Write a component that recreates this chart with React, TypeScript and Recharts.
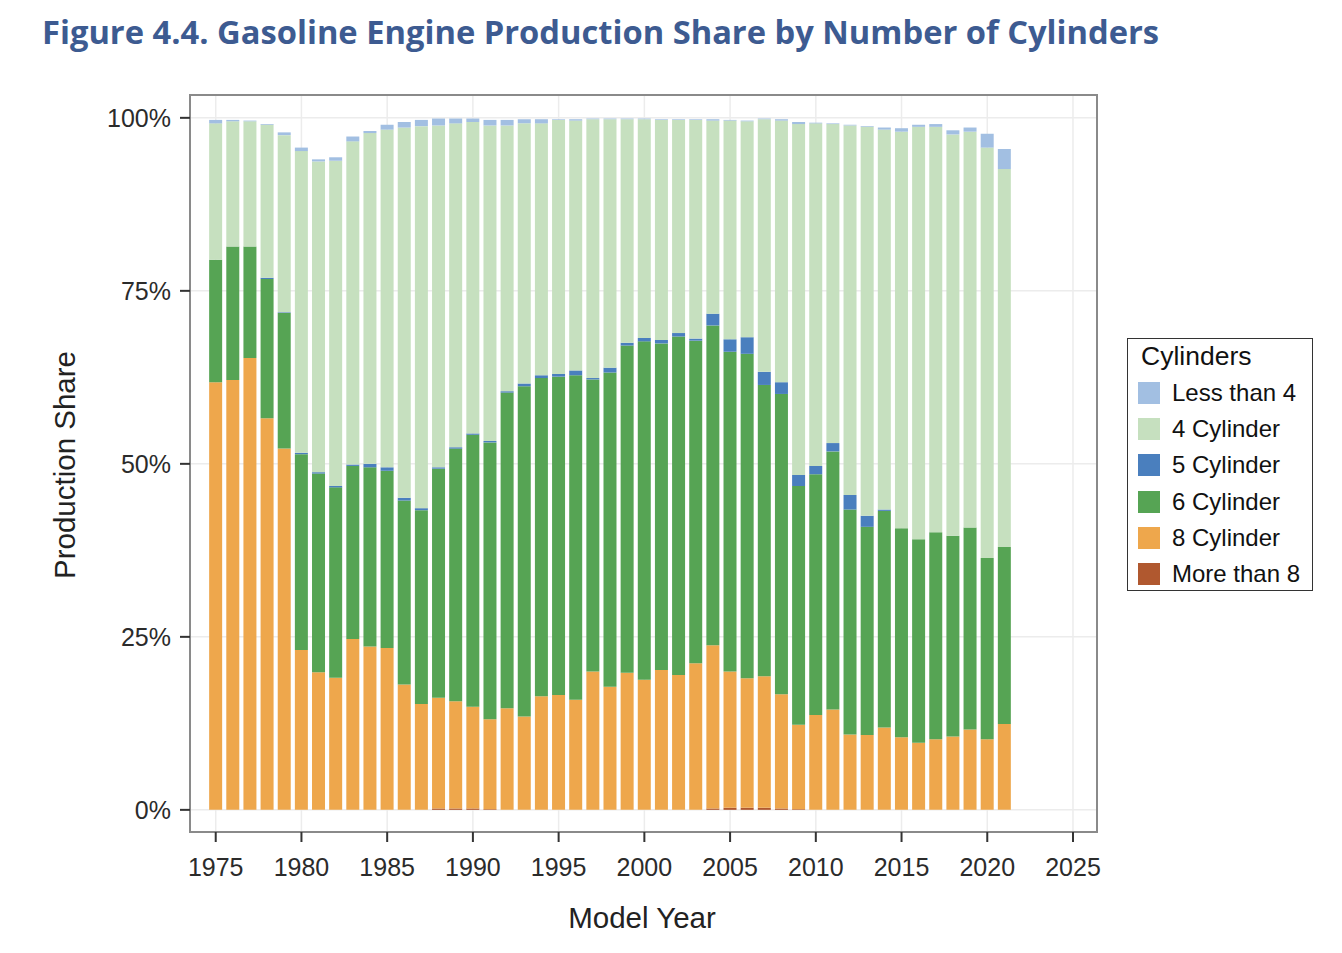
import {
  BarChart,
  Bar,
  XAxis,
  YAxis,
  CartesianGrid,
  ReferenceArea,
} from 'recharts';

// model years and share (%) of each cylinder group, bottom of the stack first
const years = [
  1975, 1976, 1977, 1978, 1979, 1980, 1981, 1982, 1983, 1984, 1985, 1986,
  1987, 1988, 1989, 1990, 1991, 1992, 1993, 1994, 1995, 1996, 1997, 1998,
  1999, 2000, 2001, 2002, 2003, 2004, 2005, 2006, 2007, 2008, 2009, 2010,
  2011, 2012, 2013, 2014, 2015, 2016, 2017, 2018, 2019, 2020, 2021,
];

const moreThan8 = [
  0, 0, 0, 0, 0, 0, 0, 0, 0, 0, 0, 0,
  0, 0.2, 0.2, 0.2, 0.1, 0, 0, 0, 0, 0, 0, 0,
  0, 0, 0, 0, 0, 0.2, 0.3, 0.3, 0.3, 0.2, 0.1, 0,
  0, 0, 0, 0, 0, 0, 0, 0, 0, 0, 0,
];

const cyl8 = [
  61.8, 62.1, 65.3, 56.6, 52.2, 23.1, 19.9, 19.1, 24.7, 23.6, 23.4, 18.1,
  15.3, 16.0, 15.5, 14.7, 13.0, 14.7, 13.5, 16.4, 16.6, 15.9, 20.0, 17.8,
  19.8, 18.8, 20.2, 19.5, 21.2, 23.6, 19.7, 18.7, 19.0, 16.5, 12.2, 13.7,
  14.5, 10.9, 10.8, 11.9, 10.5, 9.7, 10.2, 10.6, 11.6, 10.2, 12.4,
];

const cyl6 = [
  17.7, 19.3, 16.1, 20.1, 19.6, 28.3, 28.7, 27.5, 25.0, 25.9, 25.6, 26.6,
  28.0, 33.1, 36.5, 39.3, 40.0, 45.6, 47.7, 46.0, 46.0, 46.9, 42.2, 45.4,
  47.3, 48.9, 47.2, 48.9, 46.6, 46.2, 46.2, 46.9, 42.1, 43.4, 34.5, 34.8,
  37.3, 32.5, 30.1, 31.3, 30.2, 29.4, 29.9, 29.0, 29.2, 26.2, 25.6,
];

const cyl5 = [
  0, 0, 0, 0.2, 0.1, 0.2, 0.2, 0.2, 0.2, 0.5, 0.5, 0.4,
  0.3, 0.2, 0.2, 0.2, 0.2, 0.2, 0.4, 0.4, 0.4, 0.7, 0.2, 0.7,
  0.4, 0.5, 0.5, 0.5, 0.3, 1.7, 1.8, 2.4, 1.9, 1.7, 1.6, 1.2,
  1.2, 2.1, 1.6, 0.2, 0, 0, 0, 0, 0, 0, 0,
];

const cyl4 = [
  19.7, 18.1, 18.1, 22.1, 25.6, 43.6, 44.9, 47.0, 46.7, 47.8, 48.8, 53.5,
  55.2, 49.4, 46.8, 45.0, 45.6, 38.4, 37.6, 36.4, 36.7, 36.1, 37.4, 35.9,
  32.3, 31.6, 31.8, 30.8, 31.6, 27.9, 31.6, 31.2, 36.5, 37.8, 50.7, 49.5,
  46.1, 53.4, 56.2, 54.9, 57.3, 59.6, 58.6, 58.0, 57.2, 59.3, 54.6,
];

const lessThan4 = [
  0.5, 0.2, 0.1, 0.1, 0.4, 0.5, 0.3, 0.5, 0.7, 0.3, 0.7, 0.8,
  0.9, 1.0, 0.7, 0.5, 0.8, 0.8, 0.6, 0.6, 0.1, 0.2, 0.1, 0.1,
  0.1, 0.1, 0.1, 0.1, 0.1, 0.2, 0.1, 0.1, 0.1, 0.2, 0.3, 0.1,
  0.1, 0.1, 0.1, 0.3, 0.5, 0.3, 0.4, 0.6, 0.6, 2.0, 2.9,
];

const xTicks = [1975, 1980, 1985, 1990, 1995, 2000, 2005, 2010, 2015, 2020, 2025];
const yTicks = [0, 25, 50, 75, 100];

const series = [
  { key: 'lessThan4', name: 'Less than 4', color: '#a2bfe2' },
  { key: 'cyl4', name: '4 Cylinder', color: '#c6e0bf' },
  { key: 'cyl5', name: '5 Cylinder', color: '#4a7fbe' },
  { key: 'cyl6', name: '6 Cylinder', color: '#56a454' },
  { key: 'cyl8', name: '8 Cylinder', color: '#eea74c' },
  { key: 'moreThan8', name: 'More than 8', color: '#b0582f' },
];

const data = years.map((year, i) => ({
  year,
  moreThan8: moreThan8[i],
  cyl8: cyl8[i],
  cyl6: cyl6[i],
  cyl5: cyl5[i],
  cyl4: cyl4[i],
  lessThan4: lessThan4[i],
}));

const X_DOMAIN: [number, number] = [1973.5, 2026.4];
const Y_DOMAIN: [number, number] = [-3.2, 103.3];

const FONT = '"Liberation Sans", Arial, sans-serif';
const tickStyle = { fill: '#2b2b2b', fontSize: 25, fontFamily: FONT };

const LegendBox = () => (
  <div
    style={{
      position: 'absolute',
      left: 1119,
      top: 330,
      width: 184,
      height: 251,
      border: '1px solid #333',
      fontFamily: FONT,
      color: '#111',
      boxSizing: 'content-box',
    }}
  >
    <div style={{ position: 'absolute', left: 13, top: 2, fontSize: 26.5, lineHeight: '30px' }}>
      Cylinders
    </div>
    {series.map((s, i) => (
      <div
        key={s.key}
        style={{
          position: 'absolute',
          left: 10,
          top: 41 + i * 36.2,
          display: 'flex',
          alignItems: 'center',
          height: 26,
        }}
      >
        <span style={{ width: 22, height: 22, background: s.color, display: 'inline-block' }} />
        <span style={{ marginLeft: 12, fontSize: 24, lineHeight: '26px' }}>{s.name}</span>
      </div>
    ))}
  </div>
);

export default function App() {
  // stack from the bottom: More than 8 first, Less than 4 on top
  const stackOrder = [...series].reverse();
  return (
    <div style={{ position: 'relative', width: 1326, height: 945, background: '#fff' }}>
      <div
        style={{
          position: 'absolute',
          left: 34,
          top: 8,
          fontFamily: '"Open Sans", sans-serif',
          fontWeight: 700,
          fontSize: 32.7,
          lineHeight: 1,
          color: '#3d5b91',
          whiteSpace: 'nowrap',
        }}
      >
        Figure 4.4. Gasoline Engine Production Share by Number of Cylinders
      </div>

      <div style={{ position: 'absolute', left: 0, top: 0 }}>
        <BarChart
          width={1326}
          height={945}
          data={data}
          margin={{ top: 87, right: 237, bottom: 61, left: 102 }}
          barCategoryGap={0}
        >
          <CartesianGrid stroke="#ececec" strokeWidth={1.5} />
          <XAxis
            dataKey="year"
            type="number"
            domain={X_DOMAIN}
            ticks={xTicks}
            allowDataOverflow
            axisLine={false}
            tickLine={{ stroke: '#333', strokeWidth: 2 }}
            tickSize={10}
            tickMargin={16}
            height={60}
            tick={tickStyle}
            interval={0}
          />
          <YAxis
            type="number"
            domain={Y_DOMAIN}
            ticks={yTicks}
            allowDataOverflow
            axisLine={false}
            tickLine={{ stroke: '#333', strokeWidth: 2 }}
            tickSize={10}
            tickMargin={9}
            width={80}
            tick={tickStyle}
            tickFormatter={(v: number) => `${v}%`}
            interval={0}
          />
          {stackOrder.map((s) => (
            <Bar
              key={s.key}
              dataKey={s.key}
              name={s.name}
              stackId="share"
              fill={s.color}
              barSize={13}
              isAnimationActive={false}
            />
          ))}
          <ReferenceArea
            x1={X_DOMAIN[0]}
            x2={X_DOMAIN[1]}
            y1={Y_DOMAIN[0]}
            y2={Y_DOMAIN[1]}
            fill="none"
            stroke="#8a8a8a"
            strokeWidth={2}
            ifOverflow="visible"
          />
        </BarChart>
      </div>

      <div
        style={{
          position: 'absolute',
          left: 57,
          top: 457,
          transform: 'translate(-50%, -50%) rotate(-90deg)',
          fontFamily: FONT,
          fontSize: 29.5,
          color: '#222',
          whiteSpace: 'nowrap',
        }}
      >
        Production Share
      </div>
      <div
        style={{
          position: 'absolute',
          left: 634,
          top: 910,
          transform: 'translate(-50%, -50%)',
          fontFamily: FONT,
          fontSize: 29.5,
          color: '#222',
          whiteSpace: 'nowrap',
        }}
      >
        Model Year
      </div>

      <LegendBox />
    </div>
  );
}
